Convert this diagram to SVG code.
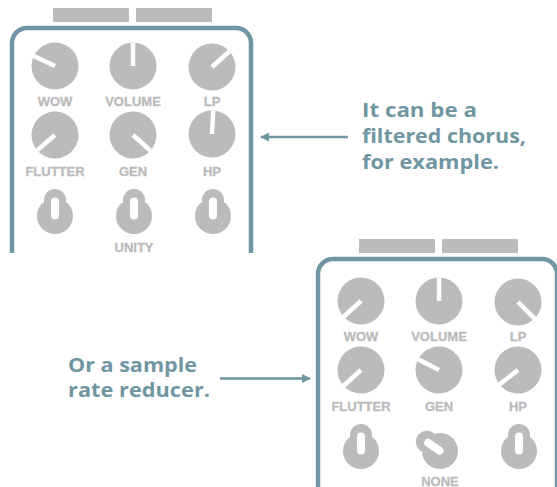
<svg xmlns="http://www.w3.org/2000/svg" width="557" height="487" viewBox="0 0 557 487">
<style>
.frame{fill:none;stroke:#6f96a2;stroke-width:4.5}
.bar{fill:#bbbbbb}
.knob{fill:#bbbbbb}
.ptr{stroke:#ffffff;stroke-width:4.5}
.lbl{font-family:"Liberation Sans",Arial,sans-serif;font-weight:bold;font-size:13px;fill:#bbbbbb;stroke:#bbbbbb;stroke-width:0.3;text-anchor:middle}
.note{font-family:"Open Sans","Liberation Sans",sans-serif;font-weight:700;font-size:19.5px;fill:#6f96a2}
.arrow{stroke:#6f96a2;stroke-width:2.5;fill:none}
</style>
<defs>
<g id="knob"><circle class="knob" r="23.5"/><line class="ptr" x1="0" y1="0" x2="0" y2="-23.5"/></g>
<g id="toggle">
<circle class="knob" cx="0" cy="0" r="18"/>
<path d="M-12 -13 A12 12 0 0 1 12 -13" fill="none" stroke="#ffffff" stroke-width="1.5"/>
<rect class="knob" x="-11" y="-27" width="22" height="36" rx="11"/>
<rect x="-4" y="-18.5" width="8" height="22" rx="4" fill="#ffffff"/>
</g>
<marker id="ah" viewBox="0 0 10 10" refX="9" refY="5" markerWidth="3.6" markerHeight="3.6" orient="auto" markerUnits="strokeWidth">
<path d="M0 0 L10 5 L0 10 z" fill="#6f96a2"/>
</marker>
</defs>

<g id="pedal-top">
<rect class="bar" x="53" y="8" width="76" height="14"/>
<rect class="bar" x="136" y="8" width="76" height="14"/>
<path class="frame" d="M12 253 V43 A15 15 0 0 1 27 28 H236 A15 15 0 0 1 251 43 V253"/>
<g id="top-wow"><use href="#knob" transform="translate(55 66) rotate(-65)"/><text class="lbl" x="55" y="106">WOW</text></g>
<g id="top-volume"><use href="#knob" transform="translate(133 66) rotate(0)"/><text class="lbl" x="133" y="106">VOLUME</text></g>
<g id="top-lp"><use href="#knob" transform="translate(212 67) rotate(48)"/><text class="lbl" x="212" y="106">LP</text></g>
<g id="top-flutter"><use href="#knob" transform="translate(55 135) rotate(-131)"/><text class="lbl" x="55" y="176">FLUTTER</text></g>
<g id="top-gen"><use href="#knob" transform="translate(133 135) rotate(132)"/><text class="lbl" x="133" y="176">GEN</text></g>
<g id="top-hp"><use href="#knob" transform="translate(212 134) rotate(3)"/><text class="lbl" x="212" y="176">HP</text></g>
<g id="top-sw1"><use href="#toggle" transform="translate(55 216)"/></g>
<g id="top-sw2"><use href="#toggle" transform="translate(134 216)"/><text class="lbl" x="134" y="252">UNITY</text></g>
<g id="top-sw3"><use href="#toggle" transform="translate(213 216)"/></g>
</g>

<g id="pedal-bottom">
<rect class="bar" x="359" y="239" width="76" height="14"/>
<rect class="bar" x="442" y="239" width="76" height="14"/>
<path class="frame" d="M318 490 V274 A15 15 0 0 1 333 259 H542 A15 15 0 0 1 557 274 V490"/>
<g id="bot-wow"><use href="#knob" transform="translate(361 301) rotate(-132)"/><text class="lbl" x="361" y="341">WOW</text></g>
<g id="bot-volume"><use href="#knob" transform="translate(439 301) rotate(0)"/><text class="lbl" x="439" y="341">VOLUME</text></g>
<g id="bot-lp"><use href="#knob" transform="translate(518 302) rotate(135)"/><text class="lbl" x="518" y="341">LP</text></g>
<g id="bot-flutter"><use href="#knob" transform="translate(361 370) rotate(-132)"/><text class="lbl" x="361" y="411">FLUTTER</text></g>
<g id="bot-gen"><use href="#knob" transform="translate(439 370) rotate(-63)"/><text class="lbl" x="439" y="411">GEN</text></g>
<g id="bot-hp"><use href="#knob" transform="translate(518 370) rotate(-128)"/><text class="lbl" x="518" y="411">HP</text></g>
<g id="bot-sw1"><use href="#toggle" transform="translate(361 451)"/></g>
<g id="bot-sw2"><use href="#toggle" transform="translate(440 451) rotate(-55)"/><text class="lbl" x="440" y="485.5">NONE</text></g>
<g id="bot-sw3"><use href="#toggle" transform="translate(519 451)"/></g>
</g>

<g id="note-top">
<text class="note" x="362" y="117" textLength="115" lengthAdjust="spacingAndGlyphs">It can be a</text>
<text class="note" x="362" y="143" textLength="164" lengthAdjust="spacingAndGlyphs">filtered chorus,</text>
<text class="note" x="362" y="168.5" textLength="137" lengthAdjust="spacingAndGlyphs">for example.</text>
</g>
<g id="note-bottom">
<text class="note" x="68" y="372" textLength="129" lengthAdjust="spacingAndGlyphs">Or a sample</text>
<text class="note" x="68" y="397" textLength="142" lengthAdjust="spacingAndGlyphs">rate reducer.</text>
</g>

<g id="connectors">
<line class="arrow" x1="348" y1="137" x2="261" y2="137" marker-end="url(#ah)"/>
<line class="arrow" x1="220" y1="378.5" x2="310" y2="378.5" marker-end="url(#ah)"/>
</g>
</svg>
